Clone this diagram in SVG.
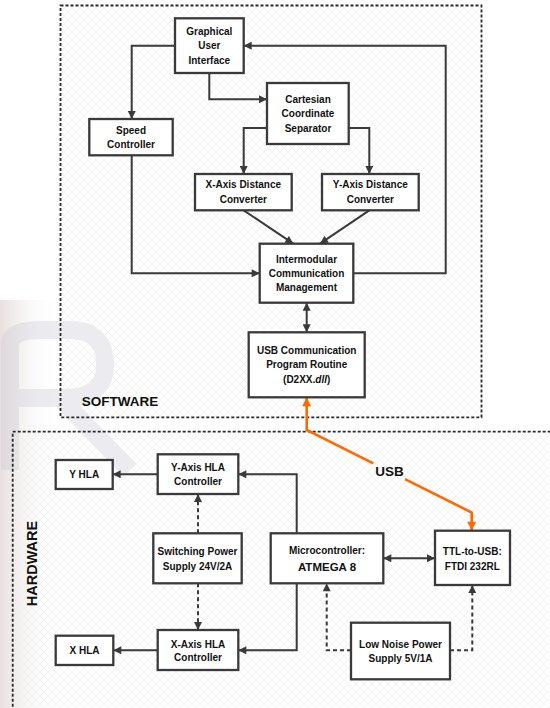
<svg xmlns="http://www.w3.org/2000/svg" width="550" height="708" viewBox="0 0 550 708">
<defs>
<pattern id="hatch" width="8" height="8" patternUnits="userSpaceOnUse">
<path d="M0,0 L8,8 M8,0 L0,8" stroke="#ececec" stroke-width="0.6" fill="none"/>
</pattern>
<linearGradient id="wm" x1="0" y1="0" x2="1" y2="0">
<stop offset="0" stop-color="#e6dcdc" stop-opacity="0.9"/>
<stop offset="1" stop-color="#ffffff" stop-opacity="0"/>
</linearGradient>
<marker id="ah" viewBox="0 0 10 10" refX="10" refY="5" markerWidth="9" markerHeight="8" markerUnits="userSpaceOnUse" orient="auto-start-reverse">
<path d="M0,0 L10,5 L0,10 z" fill="#3a3a3a"/>
</marker>
<marker id="ao" viewBox="0 0 10 10" refX="10" refY="5" markerWidth="10" markerHeight="9" markerUnits="userSpaceOnUse" orient="auto-start-reverse">
<path d="M0,0 L10,5 L0,10 z" fill="#ff6a00"/>
</marker>
<style>
.box{fill:#fff;stroke:#3a3a3a;stroke-width:2.3}
.t{font-family:"Liberation Sans",Arial,sans-serif;font-weight:bold;font-size:10px;fill:#111;text-anchor:middle}
.c{fill:none;stroke:#3a3a3a;stroke-width:2}
.d{stroke-dasharray:4,3}
.frame{fill:url(#hatch);stroke:#2a2a2a;stroke-width:1.8;stroke-dasharray:3,2}
.usb{fill:none;stroke:#ff6a00;stroke-width:2.6}
</style>
</defs>
<rect width="550" height="708" fill="#fff"/>
<!-- watermark -->
<rect x="0" y="300" width="60" height="408" fill="url(#wm)"/>
<path d="M10,470 V345 Q10,330 40,330 H70 Q105,330 105,365 Q105,398 65,398 H15 M60,398 L130,470" fill="none" stroke="#c9c9d3" stroke-width="18" opacity="0.35"/>
<!-- frames -->
<rect class="frame" x="60.5" y="5.5" width="421" height="411.8"/>
<rect class="frame" x="12.7" y="431.7" width="560" height="300"/>
<text class="t" x="120" y="406" style="font-size:13.5px">SOFTWARE</text>
<text class="t" x="37" y="563.5" transform="rotate(-90 37 563.5)" style="font-size:14.5px">HARDWARE</text>
<g id="connectors">
<path class="c" d="M175,45.7 H131.7 V119" marker-end="url(#ah)"/>
<path class="c" d="M209.3,73 V99.3 H267" marker-end="url(#ah)"/>
<path class="c" d="M267,128 H243.7 V174" marker-end="url(#ah)"/>
<path class="c" d="M348.7,128 H369.3 V174" marker-end="url(#ah)"/>
<path class="c" d="M243.7,210.3 L293.3,243.7" marker-end="url(#ah)"/>
<path class="c" d="M369.3,210.3 L320,243.7" marker-end="url(#ah)"/>
<path class="c" d="M131.7,155.3 V273.3 H259.7" marker-end="url(#ah)"/>
<path class="c" d="M353.3,273.3 H445.7 V45.7 H243.7" marker-end="url(#ah)"/>
<path class="c" d="M306.7,302.7 V332.3" marker-start="url(#ah)" marker-end="url(#ah)"/>
<path class="usb" d="M373.3,463.3 L306.7,430 V397.3" marker-end="url(#ao)"/>
<path class="usb" d="M405,479.1 L471.7,512.5 V530.7" marker-end="url(#ao)"/>
<path class="c" d="M296.7,533.3 V474.3 H238.3" marker-end="url(#ah)"/>
<path class="c" d="M157.7,474.3 H112.7" marker-end="url(#ah)"/>
<path class="c d" d="M198,533.3 V494" marker-end="url(#ah)"/>
<path class="c d" d="M198,583.3 V630" marker-end="url(#ah)"/>
<path class="c" d="M296.7,583.3 V650.3 H238.3" marker-end="url(#ah)"/>
<path class="c" d="M157.7,650.3 H113.3" marker-end="url(#ah)"/>
<path class="c" d="M383.3,558.3 H435" marker-start="url(#ah)" marker-end="url(#ah)"/>
<path class="c d" d="M351,650.3 H326.7 V583.3" marker-end="url(#ah)"/>
<path class="c d" d="M450,650.3 H472.3 V585" marker-end="url(#ah)"/>
</g>
<text class="t" x="389.5" y="475.5" style="font-size:13.5px">USB</text>
<g id="gui"><rect class="box" x="175" y="18.3" width="68.7" height="54.7"/>
<text class="t" x="209.3" y="35">Graphical</text><text class="t" x="209.3" y="49">User</text><text class="t" x="209.3" y="63.5">Interface</text></g>
<g id="speed"><rect class="box" x="89.3" y="119" width="83.4" height="36.3"/>
<text class="t" x="131" y="134">Speed</text><text class="t" x="131" y="148">Controller</text></g>
<g id="cartesian"><rect class="box" x="267" y="83" width="81.7" height="61"/>
<text class="t" x="308" y="102.5">Cartesian</text><text class="t" x="308" y="117">Coordinate</text><text class="t" x="308" y="131.5">Separator</text></g>
<g id="xdist"><rect class="box" x="195" y="174" width="96.7" height="36.3"/>
<text class="t" x="243.3" y="187.5">X-Axis Distance</text><text class="t" x="243.3" y="202.5">Converter</text></g>
<g id="ydist"><rect class="box" x="322" y="174" width="96.7" height="36.3"/>
<text class="t" x="370.3" y="187.5">Y-Axis Distance</text><text class="t" x="370.3" y="202.5">Converter</text></g>
<g id="intermodular"><rect class="box" x="259.7" y="243.7" width="93.6" height="59"/>
<text class="t" x="306.5" y="262.5">Intermodular</text><text class="t" x="306.5" y="276.5">Communication</text><text class="t" x="306.5" y="290.5">Management</text></g>
<g id="usbroutine"><rect class="box" x="248.7" y="332.3" width="116" height="65"/>
<text class="t" x="306.7" y="354">USB Communication</text><text class="t" x="306.7" y="368">Program Routine</text><text class="t" x="306.7" y="383">(D2XX.<tspan font-style="italic">dll</tspan>)</text></g>
<g id="yhla"><rect class="box" x="55.7" y="460" width="57" height="29"/>
<text class="t" x="84.2" y="478">Y HLA</text></g>
<g id="yctrl"><rect class="box" x="157.7" y="454.3" width="80.6" height="39.7"/>
<text class="t" x="198" y="470.5">Y-Axis HLA</text><text class="t" x="198" y="485">Controller</text></g>
<g id="switching"><rect class="box" x="153.3" y="533.3" width="88.4" height="50"/>
<text class="t" x="197.5" y="554.5">Switching Power</text><text class="t" x="197.5" y="570">Supply 24V/2A</text></g>
<g id="micro"><rect class="box" x="270.7" y="533.3" width="112.6" height="50"/>
<text class="t" x="327" y="553.5">Microcontroller:</text><text class="t" x="327" y="570.5" style="font-size:11.5px">ATMEGA 8</text></g>
<g id="ftdi"><rect class="box" x="435" y="530.7" width="75" height="54.3"/>
<text class="t" x="472.3" y="554.5">TTL-to-USB:</text><text class="t" x="472.3" y="570">FTDI 232RL</text></g>
<g id="xctrl"><rect class="box" x="157.7" y="630" width="80.6" height="40"/>
<text class="t" x="198" y="647.5">X-Axis HLA</text><text class="t" x="198" y="661">Controller</text></g>
<g id="xhla"><rect class="box" x="55.7" y="635.7" width="57.6" height="29.3"/>
<text class="t" x="84.5" y="654">X HLA</text></g>
<g id="lownoise"><rect class="box" x="351" y="622.7" width="99" height="56.6"/>
<text class="t" x="400.5" y="647.5">Low Noise Power</text><text class="t" x="400.5" y="661.5">Supply 5V/1A</text></g>
</svg>
